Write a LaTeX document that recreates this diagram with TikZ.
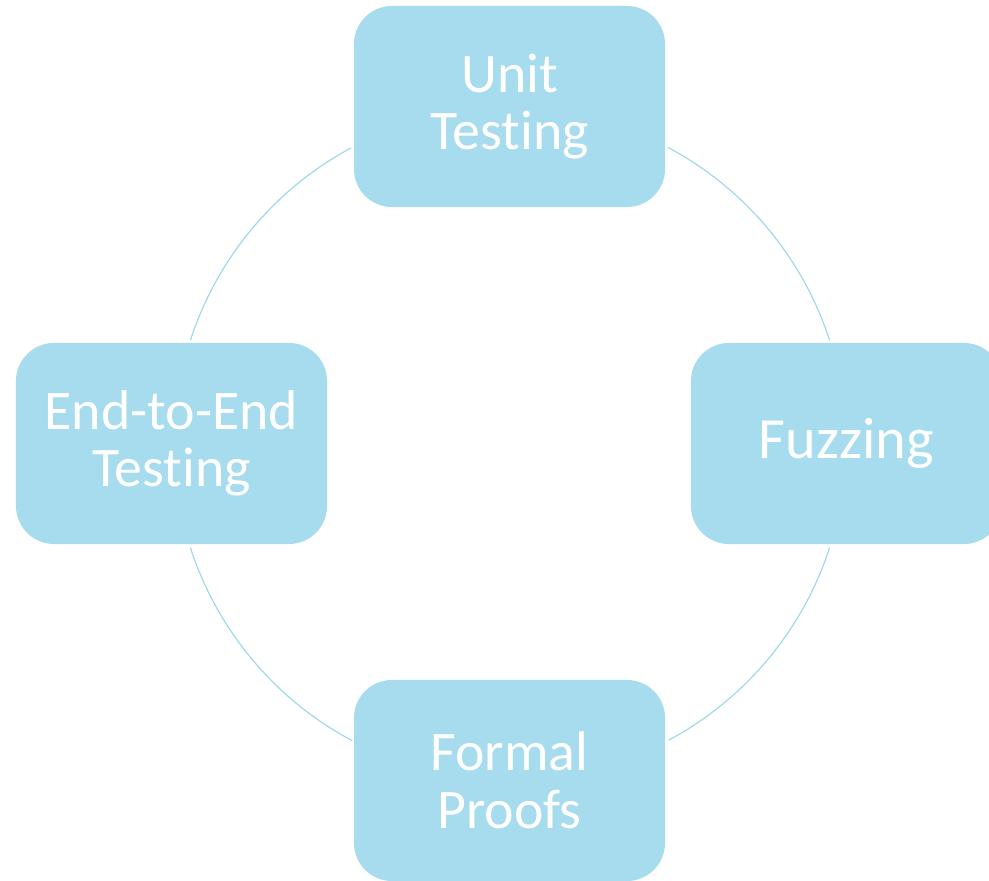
\documentclass[tikz,border=0pt]{standalone}
\usepackage{fontspec}
\setmainfont{Carlito}[Ligatures={NoCommon}]
\usepackage{tikz}
\usetikzlibrary{positioning}

\definecolor{boxblue}{HTML}{A6DCEE}
\definecolor{ringblue}{HTML}{9CD6EB}

\begin{document}
\begin{tikzpicture}[x=0.025cm, y=0.025cm,
        stage/.style={rectangle, rounded corners=0.95cm, fill=boxblue, text=white,
            minimum width=7.775cm, minimum height=5.025cm, inner sep=0pt,
            align=center, font=\fontsize{39.7}{41}\selectfont},
        ring/.style={draw=ringblue, line width=0.8pt}]
        \useasboundingbox (0,0) rectangle (989,881);
        \clip (0,0) rectangle (989,881);
        \coordinate (hub) at (510,437);
        % the ring, in four arcs between the stages
        \foreach \a/\b in {18/62, 118.2/162, 198/242, 298.2/342} {
            \draw[ring] ([shift={(\a:336)}]hub) arc[start angle=\a, end angle=\b, radius=336];
        }
        % the four stages
        \node[stage] (unit) at (509.5,774.5) {Unit\\Testing};
        \node[stage] (e2e) at (171.5,437.5) {End-to-End\\Testing};
        \node[stage] (proofs) at (509.5,100.5) {Formal\\Proofs};
        \node[stage, font=\fontsize{41.5}{43}\selectfont] (fuzz) at (846.5,437.5) {Fuzzing};
    \end{tikzpicture}
\end{document}
